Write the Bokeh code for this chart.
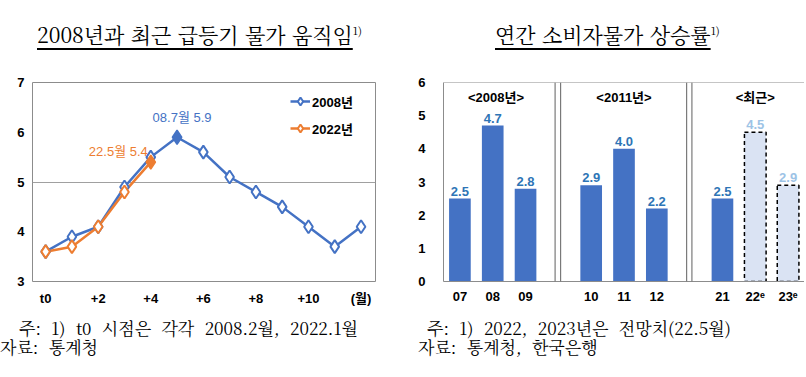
import math
from bokeh.plotting import figure
from bokeh.layouts import row, column
from bokeh.models import (Div, Span, Label, Legend, LegendItem, FixedTicker,
                          ColumnDataSource, Range1d)
from bokeh.embed import file_html
from bokeh.resources import INLINE
from bokeh.core.properties import value

# ---------------- data: left chart ----------------
months = list(range(13))
cpi_2008 = [3.6, 3.9, 4.1, 4.9, 5.5, 5.9, 5.6, 5.1, 4.8, 4.5, 4.1, 3.7, 4.1]
months_2022 = [0, 1, 2, 3, 4]
cpi_2022 = [3.6, 3.7, 4.1, 4.8, 5.4]
peak_2008_idx = 5
last_2022_idx = 4
left_ticks = [0, 2, 4, 6, 8, 10, 12]
left_tick_labels = ["t0", "+2", "+4", "+6", "+8", "+10", "(월)"]
left_y_ticks = [3, 4, 5, 6, 7]
note_2008 = "08.7월 5.9"
note_2022 = "22.5월 5.4"

# ---------------- data: right chart ----------------
year_labels = ["07", "08", "09", "10", "11", "12", "21", "22ᵉ", "23ᵉ"]
year_pos = [0, 1, 2, 4, 5, 6, 8, 9, 10]
cpi_annual = [2.5, 4.7, 2.8, 2.9, 4.0, 2.2, 2.5, 4.5, 2.9]
is_forecast = [False, False, False, False, False, False, False, True, True]
group_names = ["<2008년>", "<2011년>", "<최근>"]
group_centers = [1.1, 5.0, 9.0]
panel_separators = [2.9, 3.07, 6.91, 7.07]
right_y_ticks = [0, 1, 2, 3, 4, 5, 6]

BLUE = "#4472C4"
ORANGE = "#ED7D31"
LABEL_BLUE = "#2E75B6"
LIGHT_FILL = "#DAE3F3"
LIGHT_TEXT = "#9DC3E6"
GRAY = "#8C8C8C"
FONT = "Liberation Sans, Noto Sans CJK KR"
SERIF = "'Noto Serif CJK KR', 'Liberation Serif', 'Noto Sans CJK KR', serif"


def style_axes(p, standoff_x, standoff_y):
    for ax in (p.xaxis[0], p.yaxis[0]):
        ax.major_tick_line_color = None
        ax.minor_tick_line_color = None
        ax.major_tick_out = 0
        ax.major_tick_in = 0
        ax.minor_tick_out = 0
        ax.major_label_text_font = FONT
        ax.major_label_text_font_style = "bold"
        ax.major_label_text_font_size = "13px"
        ax.major_label_text_color = "#000000"
    p.xaxis[0].major_label_standoff = standoff_x
    p.yaxis[0].major_label_standoff = standoff_y


# ---------------- left figure ----------------
p1 = figure(width=392, height=252, x_range=Range1d(-0.5, 12.55), y_range=Range1d(3, 7),
            output_backend="svg", toolbar_location=None,
            min_border_left=24, min_border_right=25, min_border_top=24, min_border_bottom=29)
p1.background_fill_color = "white"
p1.border_fill_color = "white"
p1.outline_line_color = GRAY
p1.outline_line_width = 1
p1.xgrid.grid_line_color = None
p1.ygrid.ticker = FixedTicker(ticks=[5])
p1.ygrid.grid_line_color = "#A0A0A0"
p1.ygrid.grid_line_width = 1
p1.xaxis.ticker = FixedTicker(ticks=left_ticks)
p1.xaxis.major_label_overrides = {t: l for t, l in zip(left_ticks, left_tick_labels)}
p1.yaxis.ticker = FixedTicker(ticks=left_y_ticks)
p1.xaxis.axis_line_color = None
p1.yaxis.axis_line_color = None
style_axes(p1, 9, 8)

src08 = ColumnDataSource(dict(x=months, y=cpi_2008))
src22 = ColumnDataSource(dict(x=months_2022, y=cpi_2022))
open08 = ColumnDataSource(dict(x=[m for i, m in enumerate(months) if i != peak_2008_idx],
                               y=[v for i, v in enumerate(cpi_2008) if i != peak_2008_idx]))
open22 = ColumnDataSource(dict(x=[m for i, m in enumerate(months_2022) if i != last_2022_idx],
                               y=[v for i, v in enumerate(cpi_2022) if i != last_2022_idx]))

l08 = p1.line("x", "y", source=src08, line_color=BLUE, line_width=2.5)
l22 = p1.line("x", "y", source=src22, line_color=ORANGE, line_width=2.5)
m08 = p1.scatter("x", "y", source=open08, marker="diamond", size=13,
                 fill_color="white", line_color=BLUE, line_width=2)
p1.scatter([months[peak_2008_idx]], [cpi_2008[peak_2008_idx]], marker="diamond",
           size=14, fill_color=BLUE, line_color=BLUE, line_width=1.5)
m22 = p1.scatter("x", "y", source=open22, marker="diamond", size=13,
                 fill_color="white", line_color=ORANGE, line_width=2)
p1.scatter([months_2022[last_2022_idx]], [cpi_2022[last_2022_idx]], marker="diamond",
           size=14, fill_color=ORANGE, line_color=ORANGE, line_width=1.5)

p1.add_layout(Label(x=months[peak_2008_idx], y=cpi_2008[peak_2008_idx], text=note_2008,
                    x_offset=5, y_offset=20, text_align="center", text_baseline="middle",
                    text_font=FONT, text_font_size="13px", text_color=BLUE))
p1.add_layout(Label(x=months_2022[last_2022_idx], y=cpi_2022[last_2022_idx], text=note_2022,
                    x_offset=-3, y_offset=11, text_align="right", text_baseline="middle",
                    text_font=FONT, text_font_size="13px", text_color=ORANGE))
p1.add_layout(Label(x=-0.5, y=7, text="(전년동월대비, %)", y_offset=4, text_align="left",
                    text_baseline="bottom", text_font=FONT, text_font_size="12px",
                    text_font_style="bold", text_color="#000000"))

legend = Legend(items=[LegendItem(label="2008년", renderers=[l08, m08]),
                       LegendItem(label="2022년", renderers=[l22, m22])],
                location=(258, 143), orientation="vertical",
                glyph_width=20, glyph_height=20, label_height=20, label_standoff=2,
                spacing=7, padding=0, margin=0,
                label_text_font=FONT, label_text_font_size="13px",
                label_text_font_style="bold", label_text_color="#000000",
                background_fill_alpha=0, border_line_alpha=0)
p1.add_layout(legend)

# ---------------- right figure ----------------
p2 = figure(width=404, height=252, x_range=Range1d(-0.5, 10.5), y_range=Range1d(0, 6),
            output_backend="svg", toolbar_location=None,
            min_border_left=43, min_border_right=0, min_border_top=24, min_border_bottom=25)
p2.background_fill_color = "white"
p2.border_fill_color = "white"
p2.outline_line_color = None
p2.xgrid.grid_line_color = None
p2.ygrid.grid_line_color = None
p2.xaxis.ticker = FixedTicker(ticks=year_pos)
p2.xaxis.major_label_overrides = {t: l for t, l in zip(year_pos, year_labels)}
p2.yaxis.ticker = FixedTicker(ticks=right_y_ticks)
p2.xaxis.axis_line_color = GRAY
p2.yaxis.axis_line_color = GRAY
style_axes(p2, 7, 18)

p2.add_layout(Span(location=6, dimension="width", line_color=GRAY, line_width=1))
for s in panel_separators:
    p2.add_layout(Span(location=s, dimension="height", line_color="#606060", line_width=1))

act = ColumnDataSource(dict(x=[x for x, f in zip(year_pos, is_forecast) if not f],
                            top=[v for v, f in zip(cpi_annual, is_forecast) if not f]))
fc = ColumnDataSource(dict(x=[x for x, f in zip(year_pos, is_forecast) if f],
                           top=[v for v, f in zip(cpi_annual, is_forecast) if f]))
p2.vbar(x="x", top="top", source=act, width=0.66, bottom=0, fill_color=BLUE, line_color=None)
p2.vbar(x="x", top="top", source=fc, width=0.66, bottom=0, fill_color=LIGHT_FILL,
        line_color="#000000", line_dash="4 3", line_width=1.5)

lab_src = ColumnDataSource(dict(x=year_pos, y=cpi_annual,
                                text=[f"{v:.1f}" for v in cpi_annual],
                                color=[LIGHT_TEXT if f else LABEL_BLUE for f in is_forecast]))
p2.text("x", "y", text="text", source=lab_src, text_color="color", text_align="center",
        text_baseline="bottom", y_offset=-3, text_font=value(FONT), text_font_size="13px",
        text_font_style="bold")
p2.text(x=group_centers, y=[6] * len(group_centers), text=group_names, text_align="center",
        text_baseline="middle", y_offset=15, text_font=value(FONT), text_font_size="13px",
        text_font_style="bold", text_color="#000000")
p2.add_layout(Label(x=-0.5, y=6, text="(전년대비, %)", y_offset=1, text_align="left",
                    text_baseline="bottom", text_font=FONT, text_font_size="12px",
                    text_font_style="bold", text_color="#000000"))

# ---------------- titles & notes ----------------
def title_div(text, left, width):
    html = (f'<div style="padding:10px 0 0 {left}px; font-family:{SERIF}; font-size:21px; '
            f'line-height:24px; word-spacing:1px; white-space:nowrap; color:#000;">'
            f'<span style="text-decoration:underline; text-underline-offset:5px;">{text}</span>'
            f'<sup style="font-size:11px;">1)</sup></div>')
    return Div(text=html, width=width, height=50, margin=0)


def note_div(line1, left1, line2, left2, width):
    html = (f'<div style="padding-top:8px; font-family:{SERIF}; font-size:17px; '
            f'line-height:19px; word-spacing:6px; white-space:nowrap; color:#000;">'
            f'<div style="position:relative; left:{left1}px; height:19px;">{line1}</div>'
            f'<div style="position:relative; left:{left2}px; height:19px;">{line2}</div></div>')
    return Div(text=html, width=width, height=59, margin=0)


t1 = title_div("2008년과 최근 급등기 물가 움직임", 29, 392)
t2 = title_div("연간 소비자물가 상승률", 95, 404)
n1 = note_div("주: 1) t0 시점은 각각 2008.2월, 2022.1월", 11, "자료: 통계청", -8, 392)
n2 = note_div("주: 1) 2022, 2023년은 전망치(22.5월)", 27, "자료: 통계청, 한국은행", 18, 404)

layout = column(row(t1, t2, spacing=0), row(p1, p2, spacing=0), row(n1, n2, spacing=0),
                spacing=0, margin=(8, 0, 0, 8))

with open("out.html", "w") as f:
    f.write(file_html(layout, INLINE))
